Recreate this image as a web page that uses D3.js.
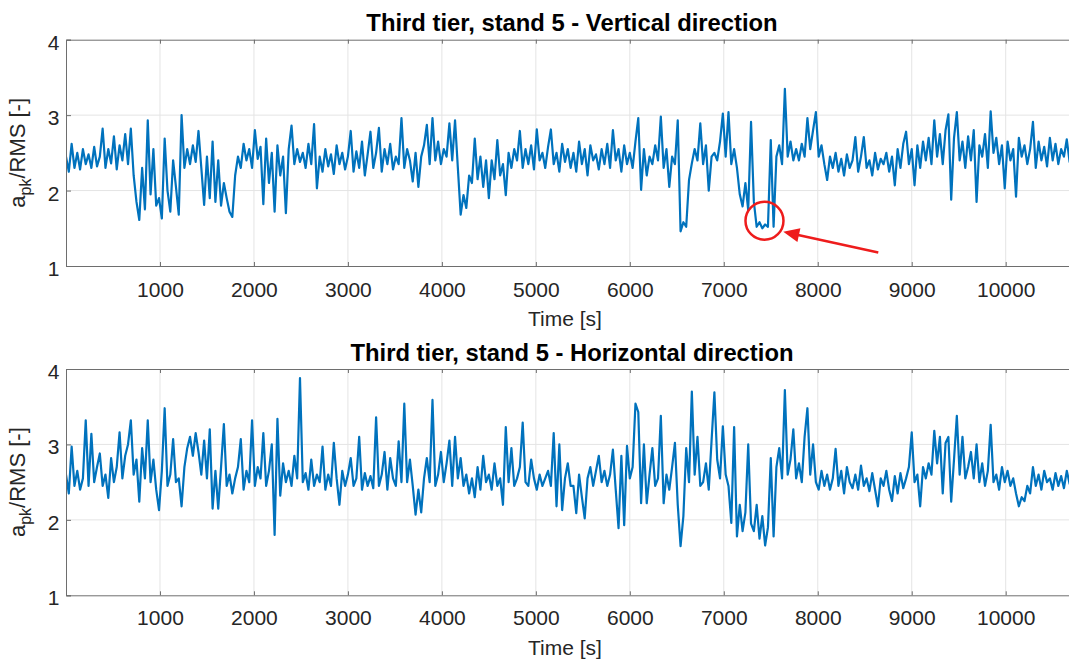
<!DOCTYPE html>
<html><head><meta charset="utf-8">
<script src="https://cdn.jsdelivr.net/npm/d3@7"></script>
<style>
body{margin:0;background:#fff;}
svg{display:block;font-family:"Liberation Sans",Arial,Helvetica,sans-serif;}
</style>
</head><body>
<svg id="chart" width="1069" height="660"></svg>
<script>
// ---------------- DATA ----------------
const sampleStep = 30; // seconds between samples
const xTickValues = [1000,2000,3000,4000,5000,6000,7000,8000,9000,10000];
const yTickValues = [1,2,3,4];
const panelTitles = ["Third tier, stand 5 - Vertical direction","Third tier, stand 5 - Horizontal direction"];
const xLabel = "Time [s]";

const verticalSeries = [
2.45,2.25,2.62,2.30,2.50,2.28,2.55,2.35,2.48,2.30,
2.58,2.32,2.45,2.82,2.30,2.55,2.36,2.72,2.28,2.60,
2.40,2.75,2.35,2.82,2.20,1.85,1.61,2.30,1.75,2.93,
1.95,2.55,1.80,1.90,1.63,2.69,2.00,1.72,2.40,2.05,
1.68,3.00,2.30,2.55,2.35,2.60,2.38,2.79,2.30,1.81,
2.45,1.90,2.65,1.85,2.40,1.80,2.10,1.90,1.72,1.65,
2.20,2.45,2.30,2.62,2.40,2.55,2.30,2.80,2.42,2.58,
1.82,2.69,2.10,2.50,1.72,2.60,2.20,2.45,1.70,2.55,
2.86,2.35,2.55,2.38,2.50,2.30,2.62,2.35,2.88,2.03,
2.45,2.25,2.55,2.32,2.48,2.22,2.60,2.35,2.50,2.28,
2.45,2.79,2.25,2.52,2.30,2.65,2.20,2.48,2.78,2.30,
2.50,2.83,2.25,2.55,2.35,2.62,2.28,2.45,2.35,2.96,
2.30,2.55,2.40,2.12,2.50,2.05,2.45,2.60,2.87,2.35,
2.96,2.40,2.65,2.35,2.55,2.45,2.89,2.40,2.93,2.30,
1.68,1.94,1.77,2.20,2.10,2.69,2.15,2.45,2.05,2.40,
1.90,2.40,2.15,2.67,2.20,2.35,1.94,2.50,2.30,2.55,
2.40,2.79,2.30,2.55,2.35,2.60,2.28,2.81,2.40,2.50,
2.30,2.58,2.81,2.35,2.50,2.25,2.62,2.38,2.55,2.30,
2.50,2.25,2.65,2.35,2.55,2.20,2.60,2.40,2.48,2.28,
2.55,2.35,2.62,2.30,2.80,2.40,2.55,2.25,2.60,2.35,
2.50,2.30,2.65,2.96,2.01,2.55,2.20,2.45,2.35,2.60,
2.40,2.98,2.30,2.55,2.05,2.45,2.35,2.93,1.46,1.58,
1.52,2.14,2.36,2.55,2.40,2.89,2.35,2.60,2.00,2.45,
2.50,2.40,2.65,3.02,2.45,3.04,2.35,2.55,2.30,1.95,
1.79,2.10,1.74,2.91,1.85,1.52,1.58,1.50,1.55,1.52,
2.67,1.52,2.45,2.60,2.35,3.35,2.45,2.65,2.40,2.55,
2.40,2.62,2.45,2.96,2.55,2.80,3.04,2.45,2.60,2.35,
2.14,2.45,2.30,2.50,2.25,2.42,2.20,2.48,2.30,2.40,
2.71,2.25,2.45,2.71,2.30,2.40,2.20,2.50,2.28,2.42,
2.35,2.50,2.25,2.45,2.07,2.55,2.30,2.62,2.78,2.35,
2.55,2.07,2.60,2.30,2.65,2.40,2.70,2.35,2.93,2.45,
2.75,2.35,2.80,3.01,1.88,2.70,3.04,2.40,2.65,2.30,
2.72,2.40,2.80,1.85,2.60,2.45,2.75,2.30,3.05,2.50,
2.70,2.35,2.60,2.03,2.65,2.40,2.55,1.92,2.70,2.45,
2.60,2.35,2.55,2.91,2.30,2.65,2.40,2.58,2.32,2.70,
2.40,2.62,2.35,2.55,2.45,2.68,2.38,2.50
];

const horizontalSeries = [
2.60,2.35,2.97,2.45,2.65,2.40,2.55,3.32,2.45,3.14,
2.50,2.70,2.88,2.45,2.60,2.29,2.82,2.50,2.70,3.16,
2.55,2.85,3.00,3.32,2.60,2.80,2.24,2.95,2.55,3.32,
2.50,2.80,2.40,2.13,2.65,3.48,2.45,2.60,3.07,2.50,
2.55,2.18,2.70,2.95,3.10,2.85,3.15,2.90,2.60,3.05,
2.55,3.20,2.15,2.65,2.15,2.70,3.27,2.45,2.60,2.35,
2.55,2.70,3.07,2.40,2.65,2.50,3.32,2.45,2.70,2.55,
3.15,2.45,2.65,3.00,1.80,3.34,2.32,2.75,2.50,2.65,
2.45,2.85,2.55,3.88,2.50,2.62,2.40,2.80,2.45,2.60,
2.50,2.97,2.40,2.60,2.45,3.02,2.55,2.20,2.65,2.45,
2.60,2.82,2.45,2.55,3.10,2.40,2.62,2.45,2.58,2.42,
3.36,2.45,2.60,2.90,2.40,2.82,2.55,2.45,3.04,2.50,
3.54,2.50,2.80,2.45,2.07,2.40,2.10,2.55,2.82,2.50,
3.59,2.45,2.60,2.90,2.50,2.75,3.05,2.45,3.10,2.55,
2.82,2.45,2.60,2.35,2.55,2.30,2.70,2.40,2.85,2.50,
2.60,2.40,2.75,2.45,2.55,2.20,3.23,2.50,2.95,2.45,
2.55,2.70,3.29,2.50,2.45,2.80,2.55,2.40,2.60,2.45,
2.55,2.65,2.45,3.15,2.18,3.00,2.13,2.55,2.75,2.45,
2.45,2.09,2.60,2.30,2.02,2.55,2.70,2.45,2.65,2.85,
2.50,2.65,2.45,2.60,2.93,2.40,1.89,2.85,1.93,2.98,
2.55,2.70,3.54,3.43,2.22,3.00,2.22,2.60,2.95,2.45,
2.55,3.38,2.22,2.60,2.40,2.70,3.02,2.20,1.65,2.05,
2.95,2.50,3.70,2.60,3.10,2.45,2.50,2.75,2.40,3.05,
3.69,2.80,2.55,3.24,2.60,2.45,1.96,3.23,1.78,2.20,
1.85,2.10,3.00,1.95,1.85,2.20,1.75,2.05,1.66,1.90,
2.82,1.78,2.70,2.95,2.55,3.72,2.60,2.80,3.20,2.55,
2.75,2.50,3.10,3.48,2.60,3.00,2.50,2.40,2.65,2.45,
2.60,2.40,2.55,2.94,2.45,2.65,2.35,2.70,2.50,2.42,
2.60,2.40,2.72,2.45,2.55,2.38,2.62,2.40,2.18,2.55,
2.45,2.65,2.40,2.25,2.58,2.35,2.62,2.42,2.55,2.70,
3.16,2.50,2.60,2.18,2.70,2.55,2.75,2.60,3.18,2.75,
3.10,2.35,3.02,3.10,2.24,2.80,3.38,2.60,3.10,2.55,
2.70,2.90,2.55,3.00,2.50,2.75,2.45,2.65,3.26,2.50,
2.60,2.40,2.70,2.50,2.65,2.45,2.55,2.35,2.18,2.30,
2.25,2.45,2.35,2.70,2.45,2.60,2.40,2.65,2.50,2.55,
2.40,2.62,2.45,2.58,2.42,2.65,2.48,2.55
];

// annotation (data coordinates, top panel)
const markCircle = {t: 7433, v: 1.60};
const markArrow = {fromT: 8644, fromV: 1.18, toT: 7633, toV: 1.455};

// ---------------- LAYOUT ----------------
const svg = d3.select("#chart");
const plotLeft = 66, pxPerSec = 0.09397;
const xDomainMax = 10700;
const x = d3.scaleLinear().domain([0, xDomainMax]).range([plotLeft, plotLeft + xDomainMax * pxPerSec]);
const textColor = "#262626";
const axisColor = "#6e6e6e";
const gridColor = "#e4e4e4";
const lineColor = "#0072BD";

const panels = [
  {series: verticalSeries, top: 39.7, bottom: 266, title: panelTitles[0], titleY: 30.5, tickY: 296.5, labelY: 326},
  {series: horizontalSeries, top: 369, bottom: 595.3, title: panelTitles[1], titleY: 360.5, tickY: 625, labelY: 655}
];

panels.forEach((p, i) => {
  const y = d3.scaleLinear().domain([1, 4]).range([p.bottom, p.top]);
  const g = svg.append("g");
  const right = x.range()[1];

  const clipId = "clip" + i;
  svg.append("clipPath").attr("id", clipId).append("rect")
    .attr("x", plotLeft).attr("y", p.top).attr("width", right - plotLeft).attr("height", p.bottom - p.top);

  // grid
  g.append("g").selectAll("line").data(xTickValues).join("line")
    .attr("x1", d => x(d)).attr("x2", d => x(d)).attr("y1", p.top).attr("y2", p.bottom)
    .attr("stroke", gridColor).attr("stroke-width", 1);
  g.append("g").selectAll("line").data(yTickValues.slice(1, -1)).join("line")
    .attr("x1", plotLeft).attr("x2", right).attr("y1", d => y(d)).attr("y2", d => y(d))
    .attr("stroke", gridColor).attr("stroke-width", 1);

  // data line
  const line = d3.line().x((d, k) => x(k * sampleStep)).y(d => y(d));
  g.append("path").datum(p.series)
    .attr("clip-path", `url(#${clipId})`)
    .attr("d", line).attr("fill", "none")
    .attr("stroke", lineColor).attr("stroke-width", 2.2).attr("stroke-linejoin", "round");

  // axes
  const xb = g.append("g").attr("transform", `translate(0,${p.bottom})`)
    .call(d3.axisBottom(x).tickValues(xTickValues).tickSize(-4).tickFormat(d3.format("d")));
  xb.select(".domain").attr("stroke", axisColor);
  xb.selectAll(".tick line").attr("stroke", axisColor);
  xb.selectAll(".tick text").attr("y", p.tickY - p.bottom).attr("dy", 0)
    .attr("fill", textColor).attr("font-size", 21).attr("font-family", null);

  const xt = g.append("g").attr("transform", `translate(0,${p.top})`)
    .call(d3.axisTop(x).tickValues(xTickValues).tickSize(-4).tickFormat(""));
  xt.select(".domain").attr("stroke", axisColor);
  xt.selectAll(".tick line").attr("stroke", axisColor);

  const yl = g.append("g").attr("transform", `translate(${plotLeft},0)`)
    .call(d3.axisLeft(y).tickValues(yTickValues).tickSize(-5).tickPadding(6.5).tickFormat(d3.format("d")));
  yl.select(".domain").attr("stroke", axisColor);
  yl.selectAll(".tick line").attr("stroke", axisColor);
  yl.selectAll(".tick text").attr("dy", "0.45em")
    .attr("fill", textColor).attr("font-size", 21).attr("font-family", null);

  // title
  g.append("text").attr("x", 572).attr("y", p.titleY).attr("text-anchor", "middle")
    .attr("font-weight", "bold").attr("font-size", 23.8).attr("fill", "#000").text(p.title);

  // x label
  g.append("text").attr("x", 565).attr("y", p.labelY).attr("text-anchor", "middle")
    .attr("font-size", 21).attr("fill", textColor).text(xLabel);

  // y label
  const cy = (p.top + p.bottom) / 2;
  const yt = g.append("text").attr("transform", `translate(25,${cy}) rotate(-90)`)
    .attr("text-anchor", "middle").attr("font-size", 22).attr("fill", textColor);
  yt.append("tspan").text("a");
  yt.append("tspan").attr("dy", 6).attr("font-size", 16).text("pk");
  yt.append("tspan").attr("dy", -6).text("/RMS [-]");

  // annotation (top panel only)
  if (i === 0) {
    const red = "#ee1c1c";
    g.append("circle").attr("cx", x(markCircle.t)).attr("cy", y(markCircle.v)).attr("r", 19)
      .attr("fill", "none").attr("stroke", red).attr("stroke-width", 2.5);
    const x1 = x(markArrow.fromT), y1 = y(markArrow.fromV), x2 = x(markArrow.toT), y2 = y(markArrow.toV);
    const dx = x2 - x1, dy = y2 - y1, len = Math.hypot(dx, dy);
    const ux = dx / len, uy = dy / len, nx = -uy, ny = ux;
    const headL = 16, headW = 7;
    const bx = x2 - ux * headL, by = y2 - uy * headL;
    g.append("line").attr("x1", x1).attr("y1", y1).attr("x2", bx + ux * 2).attr("y2", by + uy * 2)
      .attr("stroke", red).attr("stroke-width", 2.5);
    g.append("polygon")
      .attr("points", [[x2, y2], [bx + nx * headW, by + ny * headW], [bx - nx * headW, by - ny * headW]].map(q => q.join(",")).join(" "))
      .attr("fill", red);
  }
});
</script>
</body></html>
